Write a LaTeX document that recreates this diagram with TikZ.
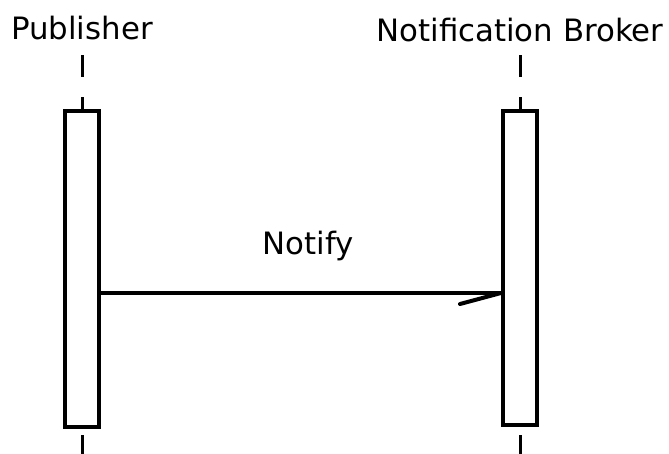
\documentclass[tikz,border=0pt]{standalone}
\usepackage{fontspec}
\setmainfont{DejaVu Sans}
\begin{document}
\begin{tikzpicture}[x=1pt,y=-1pt,
  lbl/.style={inner sep=0pt,font=\fontsize{30.8}{36}\selectfont},
  actbox/.style={draw,line width=4pt,minimum width=34pt,inner sep=0pt,anchor=north},
  life/.style={line width=3pt},
  msg/.style={line width=4pt}]
\useasboundingbox (0,0) rectangle (669,453);
% labels
\node[lbl] (publ) at (82,28) {Publisher};
\node[lbl] (brokl) at (520,30) {Notification Broker};
% activation boxes
\node[actbox,minimum height=316pt] (pub) at (82,109) {};
\node[actbox,minimum height=314pt] (brok) at (520,109) {};
% lifeline dashes
\coordinate (p1) at (82,55); \coordinate (p2) at (82,77); \coordinate (p3) at (82,97);
\coordinate (p4) at (82,435); \coordinate (p5) at (82,455);
\coordinate (b1) at (520,55); \coordinate (b2) at (520,77); \coordinate (b3) at (520,97);
\coordinate (b4) at (520,435); \coordinate (b5) at (520,455);
\draw[life] (p1) -- (p2) (p3) -- (pub.north) (p4) -- (p5);
\draw[life] (b1) -- (b2) (b3) -- (brok.north) (b4) -- (b5);
% message
\coordinate (ms) at (pub.east |- 0,293);
\coordinate (me) at (brok.west |- 0,293);
\coordinate (barb) at (460,304);
\draw[msg] (ms) -- (me);
\draw[msg,line cap=round] (me) -- (barb);
\node[lbl] (notify) at (308,246) {Notify};
\end{tikzpicture}
\end{document}
